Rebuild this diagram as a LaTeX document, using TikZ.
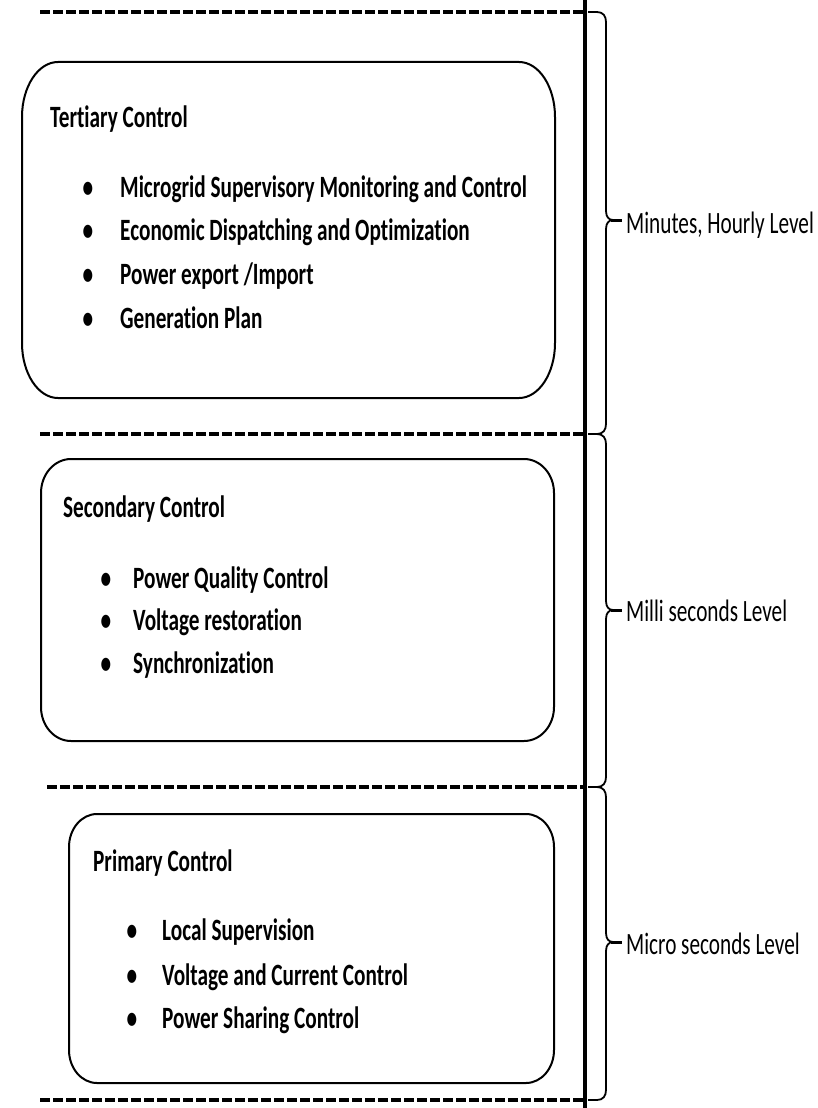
\documentclass[tikz,border=0pt]{standalone}
\usepackage{fontspec}
\setmainfont{Carlito}[FakeStretch=0.685, Ligatures={CommonOff}]
\begin{document}
\begin{tikzpicture}[x=1pt,y=-1pt,
  boxline/.style={line width=2pt, black},
  sepline/.style={line width=4pt, dash pattern=on 9.5pt off 3.5pt},
  braceline/.style={line width=1.8pt},
  head/.style={anchor=base west, inner sep=0pt, font=\fontsize{31}{31}\selectfont\bfseries},
  item/.style={anchor=base west, inner sep=0pt, font=\fontsize{31}{31}\selectfont\bfseries},
  dot/.style={anchor=base, inner sep=0pt, font=\fontsize{31}{31}\selectfont\bfseries},
  level/.style={anchor=base west, inner sep=0pt, font=\fontsize{31}{31}\selectfont}]
\useasboundingbox (0,0) rectangle (817,1108);

% rounded box with elliptical corners: x1 y1 x2 y2 rx ry
\newcommand\ovalbox[6]{%
  \draw[boxline] (#1+#5,#2) -- (#3-#5,#2)
    .. controls (#3-0.4477*#5,#2) and (#3,#2+0.4477*#6) .. (#3,#2+#6)
    -- (#3,#4-#6)
    .. controls (#3,#4-0.4477*#6) and (#3-0.4477*#5,#4) .. (#3-#5,#4)
    -- (#1+#5,#4)
    .. controls (#1+0.4477*#5,#4) and (#1,#4-0.4477*#6) .. (#1,#4-#6)
    -- (#1,#2+#6)
    .. controls (#1,#2+0.4477*#6) and (#1+0.4477*#5,#2) .. cycle;}

% right curly brace: top, tip, bottom
\newcommand\levelbrace[3]{%
  \draw[braceline] (588,#1) -- (597,#1)
    .. controls (603,#1) and (606,#1+4) .. (606,#1+10)
    -- (606,#2-9)
    .. controls (606,#2-3) and (609,#2) .. (613,#2)
    .. controls (609,#2) and (606,#2+3) .. (606,#2+9)
    -- (606,#3-10)
    .. controls (606,#3-4) and (603,#3) .. (597,#3) -- (588,#3);
  \draw[line width=3pt] (611,#2) -- (622,#2);}

% level separators and time axis
\draw[sepline] (40,12) -- (585,12);
\draw[sepline] (40,434) -- (585,434);
\draw[sepline] (47,787) -- (585,787);
\draw[sepline] (40,1100) -- (585,1100);
\draw[line width=4.5pt] (585,0) -- (585,1108);

% control layer boxes
\ovalbox{22}{62}{555}{398}{36}{55}
\ovalbox{41}{459}{554}{741}{30}{34}
\ovalbox{69}{814}{554}{1083}{28}{33}

% tertiary layer
\node[head] (ter) at (50,127) {Tertiary Control};
\node[dot] (tb1) at (88,197) {•};
\node[item] (ti1) at (120,197) {Microgrid Supervisory Monitoring and Control};
\node[dot] (tb2) at (88,240) {•};
\node[item] (ti2) at (120,240) {Economic Dispatching and Optimization};
\node[dot] (tb3) at (88,284) {•};
\node[item] (ti3) at (120,284) {Power export /Import};
\node[dot] (tb4) at (88,328) {•};
\node[item] (ti4) at (120,328) {Generation Plan};

% secondary layer
\node[head] (sec) at (63,517) {Secondary Control};
\node[dot] (sb1) at (106,588) {•};
\node[item] (si1) at (133,588) {Power Quality Control};
\node[dot] (sb2) at (106,630) {•};
\node[item] (si2) at (133,630) {Voltage restoration};
\node[dot] (sb3) at (106,673) {•};
\node[item] (si3) at (133,673) {Synchronization};

% primary layer
\node[head] (pri) at (93,871) {Primary Control};
\node[dot] (pb1) at (132,940) {•};
\node[item] (pi1) at (162,940) {Local Supervision};
\node[dot] (pb2) at (132,985) {•};
\node[item] (pi2) at (162,985) {Voltage and Current Control};
\node[dot] (pb3) at (132,1028) {•};
\node[item] (pi3) at (162,1028) {Power Sharing Control};

% time scale braces
\levelbrace{12}{220}{434}
\levelbrace{434}{610}{787}
\levelbrace{787}{942}{1100}
\node[level] (l1) at (626,233) {Minutes, Hourly Level};
\node[level] (l2) at (626,621) {Milli seconds Level};
\node[level] (l3) at (626,954) {Micro seconds Level};
\end{tikzpicture}
\end{document}
